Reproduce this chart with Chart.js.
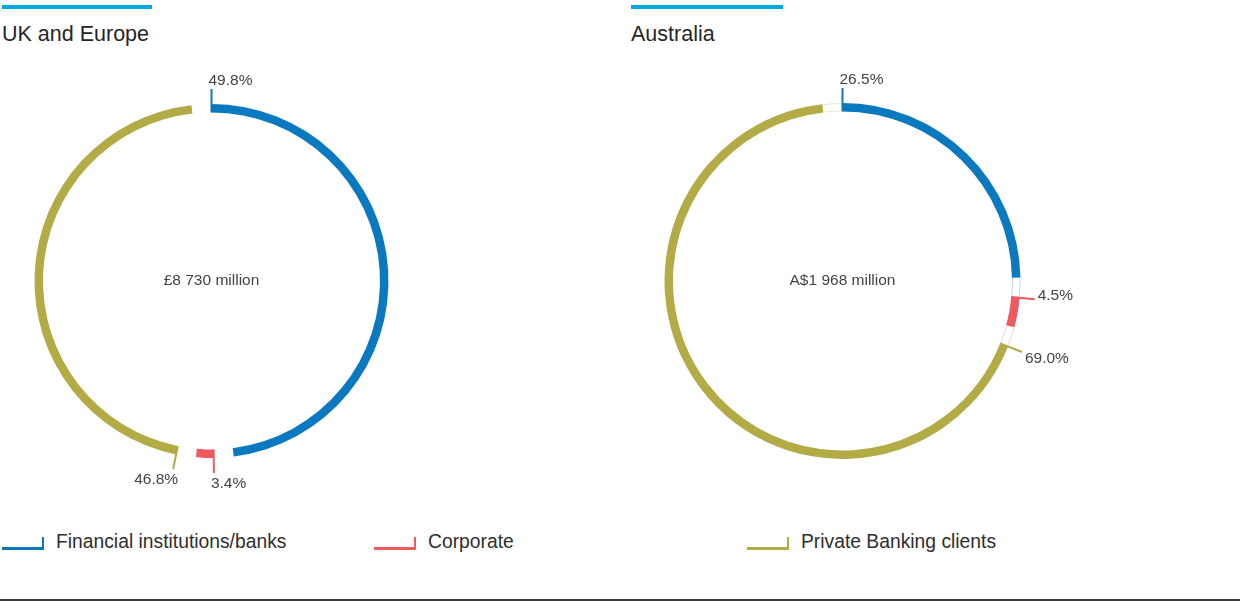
<!DOCTYPE html>
<html>
<head>
<meta charset="utf-8">
<script src="https://cdn.jsdelivr.net/npm/chart.js@4"></script>
<style>
  html, body { margin: 0; padding: 0; background: #fff; }
  body { width: 1240px; height: 602px; position: relative; overflow: hidden;
         font-family: "Liberation Sans", Arial, Helvetica, sans-serif; color: #2b2b2b; }
  .topbar { position: absolute; top: 5px; height: 4px; background: #00a9e0; }
  .title { position: absolute; top: 22px; font-size: 21.5px; line-height: 24px; color: #262626; white-space: nowrap; }
  canvas { position: absolute; top: 61px; }
  .legend-item { position: absolute; top: 530px; height: 24px; white-space: nowrap; }
  .legend-mark { position: absolute; left: 0; top: 7px; width: 40px; height: 10px;
                 border-bottom: 3px solid; border-right: 2px solid; }
  .legend-text { position: absolute; left: 54px; top: 0; font-size: 19.3px; line-height: 24px; color: #2e2e2e; }
  .rule { position: absolute; left: 0; top: 599px; width: 1240px; height: 2px; background: #3a3a3a; }
</style>
</head>
<body>
<div class="topbar" style="left:2px;width:150px"></div>
<div class="topbar" style="left:631px;width:152px"></div>
<div class="title" style="left:2px" id="titleUk"></div>
<div class="title" style="left:631px" id="titleAu"></div>
<canvas id="ukChart" width="423" height="440" style="left:0px"></canvas>
<canvas id="auChart" width="485" height="440" style="left:600px"></canvas>
<div id="legend"></div>
<div class="rule"></div>

<script>
// Client segments and their shares of each region's total
const segments = ['Financial institutions/banks', 'Corporate', 'Private Banking clients'];
const ukShares = [49.8, 3.4, 46.8];
const auShares = [26.5, 4.5, 69.0];
const segmentColors = ['#0b79bf', '#ef5a5f', '#b2ab46'];
const regionTitles = ['UK and Europe', 'Australia'];
const ukTotal = '£8 730 million';
const auTotal = 'A$1 968 million';

document.getElementById('titleUk').textContent = regionTitles[0];
document.getElementById('titleAu').textContent = regionTitles[1];

// Shared legend along the bottom
const legendX = [2, 374, 747];
const legendEl = document.getElementById('legend');
segments.forEach((name, i) => {
  const item = document.createElement('div');
  item.className = 'legend-item';
  item.style.left = legendX[i] + 'px';
  const mark = document.createElement('div');
  mark.className = 'legend-mark';
  mark.style.borderColor = segmentColors[i];
  const text = document.createElement('div');
  text.className = 'legend-text';
  text.textContent = name;
  item.appendChild(mark);
  item.appendChild(text);
  legendEl.appendChild(item);
});

const FONT = '"Liberation Sans", Arial, Helvetica, sans-serif';
const GAP = 6.5 * Math.PI / 180; // white break left at the end of every segment

// Shortens each arc to leave a gap, then draws leader ticks, percentages and the centre total
const ringDecor = {
  id: 'ringDecor',
  beforeDatasetsDraw(chart) {
    const meta = chart.getDatasetMeta(0);
    meta.data.forEach(arc => {
      arc._fullEnd = arc.endAngle;
      arc.endAngle = arc.endAngle - GAP;
      arc.circumference = arc.endAngle - arc.startAngle;
    });
  },
  afterDatasetsDraw(chart, args, opts) {
    const ctx = chart.ctx;
    const meta = chart.getDatasetMeta(0);
    const values = chart.data.datasets[0].data;
    meta.data.forEach(arc => {
      arc.endAngle = arc._fullEnd;
      arc.circumference = arc.endAngle - arc.startAngle;
    });
    ctx.save();
    meta.data.forEach((arc, i) => {
      const color = segmentColors[i];
      const cx = arc.x, cy = arc.y;
      const rO = arc.outerRadius, rI = arc.innerRadius;

      // faint trace of the ring through the gap
      if (opts.ghost) {
        ctx.globalAlpha = 0.28;
        ctx.strokeStyle = color;
        ctx.lineWidth = 1;
        ctx.beginPath();
        ctx.arc(cx, cy, rO - 0.5, arc.endAngle - GAP, arc.endAngle);
        ctx.stroke();
        ctx.beginPath();
        ctx.arc(cx, cy, rI + 0.5, arc.endAngle - GAP, arc.endAngle);
        ctx.stroke();
        ctx.globalAlpha = 1;
      }

      // leader tick at the segment's starting edge
      const a = arc.startAngle;
      const dx = Math.cos(a), dy = Math.sin(a);
      const r1 = rO + 15;
      const ex = cx + dx * r1, ey = cy + dy * r1;
      ctx.strokeStyle = color;
      ctx.lineWidth = 2;
      ctx.beginPath();
      ctx.moveTo(cx + dx * rI, cy + dy * rI);
      ctx.lineTo(ex, ey);
      ctx.stroke();

      // percentage label
      ctx.fillStyle = '#444';
      ctx.font = '15.5px ' + FONT;
      ctx.textBaseline = 'middle';
      const txt = values[i].toFixed(1) + '%';
      if (Math.abs(dy) >= Math.abs(dx)) {
        const ty = ey + (dy < 0 ? -8 : 10.5);
        if (dx >= -0.05) { ctx.textAlign = 'left'; ctx.fillText(txt, ex - 3, ty); }
        else { ctx.textAlign = 'right'; ctx.fillText(txt, ex + 5, ty); }
      } else {
        ctx.textAlign = dx > 0 ? 'left' : 'right';
        ctx.fillText(txt, ex + (dx > 0 ? 3 : -3), ey + dy * 35 - 6.3);
      }
    });

    // total in the centre
    const c = meta.data[0];
    ctx.fillStyle = '#444';
    ctx.font = '15.5px ' + FONT;
    ctx.textAlign = 'center';
    ctx.textBaseline = 'middle';
    ctx.fillText(opts.total, c.x, c.y);
    ctx.restore();
  }
};

function ringChart(id, shares, total, outer, inner, ghost) {
  return new Chart(document.getElementById(id), {
    type: 'doughnut',
    data: {
      labels: segments,
      datasets: [{
        data: shares,
        backgroundColor: segmentColors,
        borderWidth: 0,
        hoverOffset: 0
      }]
    },
    options: {
      responsive: false,
      animation: false,
      events: [],
      radius: outer,
      cutout: (inner / outer * 100) + '%',
      layout: { padding: 0 },
      plugins: {
        legend: { display: false },
        tooltip: { enabled: false },
        ringDecor: { total: total, ghost: ghost }
      }
    },
    plugins: [ringDecor]
  });
}

ringChart('ukChart', ukShares, ukTotal, 177, 168.5, false);
ringChart('auChart', auShares, auTotal, 178, 169.5, true);
</script>
</body>
</html>
